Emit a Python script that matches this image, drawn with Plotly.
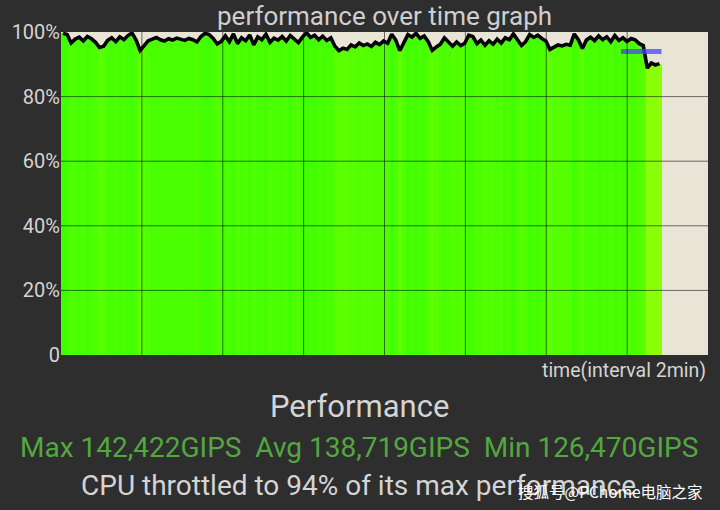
import plotly.graph_objects as go

# ---------------- data ----------------
performance_pct = [
    99.6, 99.2, 96.6, 97.8, 98.4, 97.2, 98.6, 97.9, 96.8, 95.2,
    95.6, 97.4, 98.2, 97.0, 98.5, 97.6, 98.9, 99.7, 97.5, 94.3,
    95.8, 97.3, 97.8, 98.3, 97.6, 97.2, 97.9, 97.5, 98.1, 97.7,
    97.4, 98.0, 97.6, 96.9, 98.6, 99.6, 99.2, 98.0, 96.3, 97.1,
    98.8, 97.0, 99.4, 96.4, 98.2, 97.3, 99.1, 96.0, 98.5, 97.6,
    99.3, 96.8, 98.1, 97.5, 98.6, 97.2, 98.9, 97.8, 96.7, 98.4,
    99.8, 98.3, 99.0, 97.6, 98.7, 97.4, 98.2, 95.6, 94.2, 95.0,
    94.6, 96.0, 95.4, 96.6, 95.8, 96.3, 95.5, 96.8, 96.1, 97.2,
    96.5, 99.3, 97.5, 94.2, 96.5, 99.2, 98.4, 99.6, 98.0, 98.8,
    97.0, 94.3, 95.4, 96.2, 98.2, 97.0, 95.6, 96.9, 95.8, 96.5,
    99.0, 98.6, 96.4, 97.5, 95.9, 97.3, 96.2, 97.8, 96.6, 98.2,
    97.6, 99.4, 97.7, 95.8, 97.0, 99.2, 98.3, 99.0, 98.0, 97.2,
    94.6, 95.2, 96.0, 95.7, 96.2, 95.9, 99.4, 97.6, 94.9, 97.5,
    98.4, 97.3, 98.8, 97.6, 98.5, 97.0, 98.9, 97.4, 98.2, 97.1,
    98.0, 97.6, 96.4, 95.8, 88.8, 90.4, 89.8, 90.2,
]
total_minutes = 14.85
throttle_x = [13.85, 14.85]
throttle_y = [94, 94]

y_tick_vals = [0, 20, 40, 60, 80, 100]
y_tick_text = ["0", "20%", "40%", "60%", "80%", "100%"]
x_grid_vals = [2, 4, 6, 8, 10, 12, 14]
x_range = [0, 16]

title_text = "performance over time graph"
x_axis_label = "time(interval 2min)"
summary_title = "Performance"
summary_stats = "Max 142,422GIPS  Avg 138,719GIPS  Min 126,470GIPS"
summary_note = "CPU throttled to 94% of its max performance"
watermark = "搜狐号@PChome电脑之家"

# ---------------- derived ----------------
n = len(performance_pct)
step = total_minutes / n
bar_x = [(i + 0.5) * step for i in range(n)]


def shade(v):
    if v < 92:
        return "rgb(138,255,8)"
    t = min(max((100 - v) / 6.0, 0), 1)
    r = int(62 + t * 34)
    return f"rgb({r},255,0)"


bar_colors = [shade(v) for v in performance_pct]

FONT = "Roboto, 'Noto Sans', sans-serif"
TEXT_GRAY = "#d4d4d4"
BG = "#2e2e2e"

fig = go.Figure()
fig.add_trace(go.Bar(
    x=bar_x, y=performance_pct, width=step,
    marker=dict(color=bar_colors, line=dict(width=0)),
    hoverinfo="skip", showlegend=False,
))
fig.add_trace(go.Scatter(
    x=bar_x, y=performance_pct, mode="lines",
    line=dict(color="black", width=3.6),
    hoverinfo="skip", showlegend=False,
))
fig.add_trace(go.Scatter(
    x=throttle_x, y=throttle_y, mode="lines",
    line=dict(color="rgba(70,70,255,0.75)", width=5),
    hoverinfo="skip", showlegend=False,
))

shapes = []
for gx in x_grid_vals:
    shapes.append(dict(type="line", xref="x", yref="paper", x0=gx, x1=gx, y0=0, y1=1,
                       line=dict(color="rgba(0,0,0,0.55)", width=1), layer="above"))
for gy in y_tick_vals[1:-1]:
    shapes.append(dict(type="line", xref="paper", yref="y", x0=0, x1=1, y0=gy, y1=gy,
                       line=dict(color="rgba(0,0,0,0.55)", width=1), layer="above"))

annotations = [
    dict(text=title_text, xref="paper", yref="paper", x=0.5, y=1, yshift=16,
         xanchor="center", yanchor="middle", showarrow=False,
         font=dict(family=FONT, size=26, color="#cfcfcf")),
    dict(text=x_axis_label, xref="paper", yref="paper", x=1, y=0, yshift=-15,
         xanchor="right", yanchor="middle", showarrow=False,
         font=dict(family=FONT, size=19.5, color=TEXT_GRAY)),
    dict(text=summary_title, xref="paper", yref="paper", x=0.5, xshift=-25, y=0, yshift=-51,
         xanchor="center", yanchor="middle", showarrow=False,
         font=dict(family=FONT, size=31, color=TEXT_GRAY)),
    dict(text=summary_stats, xref="paper", yref="paper", x=0.5, xshift=-26, y=0, yshift=-92,
         xanchor="center", yanchor="middle", showarrow=False,
         font=dict(family=FONT, size=28, color="#52a83e")),
    dict(text=summary_note, xref="paper", yref="paper", x=0.5, xshift=-26, y=0, yshift=-130,
         xanchor="center", yanchor="middle", showarrow=False,
         font=dict(family=FONT, size=28, color=TEXT_GRAY)),
    dict(text=watermark, xref="paper", yref="paper", x=1, y=0, yshift=-136, xshift=-3,
         xanchor="right", yanchor="middle", showarrow=False,
         font=dict(family="'Noto Sans CJK SC', Roboto, sans-serif", size=15.5, color="white")),
]

fig.update_layout(
    width=720, height=510,
    margin=dict(l=61, r=12, t=32, b=155),
    paper_bgcolor=BG, plot_bgcolor="#e8e4d6",
    bargap=0, barmode="overlay",
    shapes=shapes, annotations=annotations,
    hovermode=False,
    xaxis=dict(range=x_range, showgrid=False, zeroline=False, showticklabels=False,
               ticks="", fixedrange=True),
    yaxis=dict(range=[0, 100], tickvals=y_tick_vals, ticktext=y_tick_text,
               showgrid=False, zeroline=False, ticks="", ticklen=0,
               tickfont=dict(family=FONT, size=20, color=TEXT_GRAY), fixedrange=True),
)

fig.write_html(
    "out.html",
    config={"displayModeBar": False},
    post_script="document.body.style.margin='0';document.body.style.background='#2e2e2e';",
)
